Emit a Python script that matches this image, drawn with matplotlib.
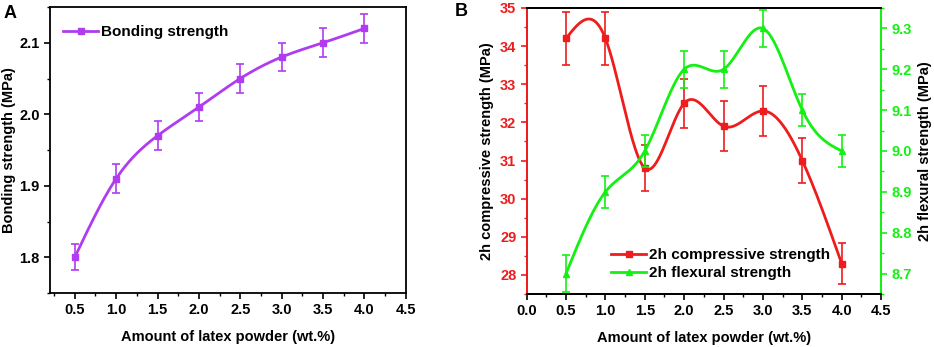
import numpy as np
import matplotlib
matplotlib.use("Agg")
import matplotlib.pyplot as plt
from matplotlib.ticker import MultipleLocator

plt.rcParams['font.family'] = ['Liberation Sans', 'DejaVu Sans']
plt.rcParams['font.weight'] = 'bold'

# ---- data ----
latex = [0.5, 1.0, 1.5, 2.0, 2.5, 3.0, 3.5, 4.0]
bonding = [1.80, 1.91, 1.97, 2.01, 2.05, 2.08, 2.10, 2.12]
bonding_err = [0.018, 0.02, 0.02, 0.02, 0.02, 0.02, 0.02, 0.02]
compressive = [34.2, 34.2, 30.8, 32.5, 31.9, 32.3, 31.0, 28.3]
compressive_err = [0.7, 0.7, 0.6, 0.65, 0.65, 0.65, 0.6, 0.55]
flexural = [8.70, 8.90, 9.00, 9.20, 9.20, 9.30, 9.10, 9.00]
flexural_err = [0.045, 0.04, 0.04, 0.045, 0.045, 0.045, 0.04, 0.04]

PURPLE = '#B03CF0'
RED = '#EE1C1C'
GREEN = '#14F014'


def natural_spline(x, y, n=300):
    x = np.asarray(x, float); y = np.asarray(y, float)
    k = len(x)
    h = np.diff(x)
    A = np.zeros((k, k)); b = np.zeros(k)
    A[0, 0] = 1; A[-1, -1] = 1
    for i in range(1, k - 1):
        A[i, i - 1] = h[i - 1]
        A[i, i] = 2 * (h[i - 1] + h[i])
        A[i, i + 1] = h[i]
        b[i] = 3 * ((y[i + 1] - y[i]) / h[i] - (y[i] - y[i - 1]) / h[i - 1])
    c = np.linalg.solve(A, b)
    xs = np.linspace(x[0], x[-1], n)
    ys = np.empty_like(xs)
    for j, xv in enumerate(xs):
        i = min(np.searchsorted(x, xv, side='right') - 1, k - 2)
        i = max(i, 0)
        dx = xv - x[i]
        bi = (y[i + 1] - y[i]) / h[i] - h[i] * (2 * c[i] + c[i + 1]) / 3
        di = (c[i + 1] - c[i]) / (3 * h[i])
        ys[j] = y[i] + bi * dx + c[i] * dx ** 2 + di * dx ** 3
    return xs, ys


fig = plt.figure(figsize=(9.34, 3.47), dpi=100)

FS = 10.5

# ---- Panel A ----
axA = fig.add_axes([0.0535, 0.1556, 0.3809, 0.8242])
xs, ys = natural_spline(latex, bonding)
axA.plot(xs, ys, color=PURPLE, lw=2)
axA.errorbar(latex, bonding, yerr=bonding_err, fmt='s', color=PURPLE, ms=4,
             capsize=3, elinewidth=1.2, capthick=1.2)
axA.plot([], [], color=PURPLE, lw=2, marker='s', ms=4, label='Bonding strength')
axA.set_xlim(0.2, 4.5)
axA.set_ylim(1.75, 2.15)
axA.xaxis.set_minor_locator(MultipleLocator(0.25))
axA.yaxis.set_major_locator(MultipleLocator(0.1))
axA.yaxis.set_minor_locator(MultipleLocator(0.05))
axA.set_xticks([0.5, 1.0, 1.5, 2.0, 2.5, 3.0, 3.5, 4.0, 4.5])
axA.tick_params(which='major', direction='out', length=4, width=1.2, labelsize=FS)
axA.tick_params(which='minor', direction='out', length=2.5, width=1.0)
for s in axA.spines.values():
    s.set_linewidth(1.3)
axA.set_xlabel('Amount of latex powder (wt.%)', fontsize=FS, fontweight='bold', labelpad=9)
axA.set_ylabel('Bonding strength (MPa)', fontsize=FS, fontweight='bold', labelpad=2)
axA.legend(loc='upper left', frameon=False, fontsize=FS + 0.5, handlelength=2.3,
           handletextpad=0.2, borderaxespad=0.0, bbox_to_anchor=(0.02, 0.957))
fig.text(0.004, 0.985, 'A', fontsize=13, fontweight='bold', va='top')

# ---- Panel B ----
axB = fig.add_axes([0.5639, 0.1527, 0.3794, 0.8243])
axC = axB.twinx()
xs, ys = natural_spline(latex, compressive)
axB.plot(xs, ys, color=RED, lw=2)
axB.errorbar(latex, compressive, yerr=compressive_err, fmt='s', color=RED, ms=4,
             capsize=3, elinewidth=1.2, capthick=1.2)
xs, ys = natural_spline(latex, flexural)
axC.plot(xs, ys, color=GREEN, lw=2)
axC.errorbar(latex, flexural, yerr=flexural_err, fmt='^', color=GREEN, ms=4,
             capsize=3, elinewidth=1.2, capthick=1.2)
hB, = axB.plot([], [], color=RED, lw=2, marker='s', ms=4, label='2h compressive strength')
hC, = axB.plot([], [], color=GREEN, lw=2, marker='^', ms=4, label='2h flexural strength')

axB.set_xlim(0, 4.5)
axB.set_ylim(27.5, 35)
axC.set_ylim(8.65, 9.35)
axB.xaxis.set_major_locator(MultipleLocator(0.5))
axB.xaxis.set_minor_locator(MultipleLocator(0.25))
axB.yaxis.set_major_locator(MultipleLocator(1))
axB.yaxis.set_minor_locator(MultipleLocator(0.5))
axC.yaxis.set_major_locator(MultipleLocator(0.1))
axC.yaxis.set_minor_locator(MultipleLocator(0.05))
axB.tick_params(axis='x', which='major', direction='out', length=4, width=1.2, labelsize=FS)
axB.tick_params(axis='x', which='minor', direction='out', length=2.5, width=1.0)
axB.tick_params(axis='y', which='major', direction='out', length=4, width=1.2, labelsize=FS,
                colors=RED)
axB.tick_params(axis='y', which='minor', direction='out', length=2.5, width=1.0, colors=RED)
axC.tick_params(axis='y', which='major', direction='out', length=4, width=1.2, labelsize=FS,
                colors=GREEN)
axC.tick_params(axis='y', which='minor', direction='out', length=2.5, width=1.0, colors=GREEN)
for s in axB.spines.values():
    s.set_linewidth(1.3)
for s in axC.spines.values():
    s.set_linewidth(1.3)
axC.spines['left'].set_color(RED)
axC.spines['right'].set_color(GREEN)
axB.spines['left'].set_color(RED)
axB.spines['right'].set_color(GREEN)
axB.set_xlabel('Amount of latex powder (wt.%)', fontsize=FS, fontweight='bold', labelpad=9)
axB.set_ylabel('2h compressive strength (MPa)', fontsize=FS, fontweight='bold', color='black')
axC.set_ylabel('2h flexural strength (MPa)', fontsize=FS, fontweight='bold', color='black')
axB.legend(handles=[hB, hC], loc='lower left', bbox_to_anchor=(0.2, 0.0), frameon=False,
           fontsize=FS + 0.5, handlelength=2.3, handletextpad=0.2, labelspacing=0.25)
fig.text(0.487, 0.99, 'B', fontsize=13, fontweight='bold', va='top')

fig.savefig('out.png', dpi=100)
